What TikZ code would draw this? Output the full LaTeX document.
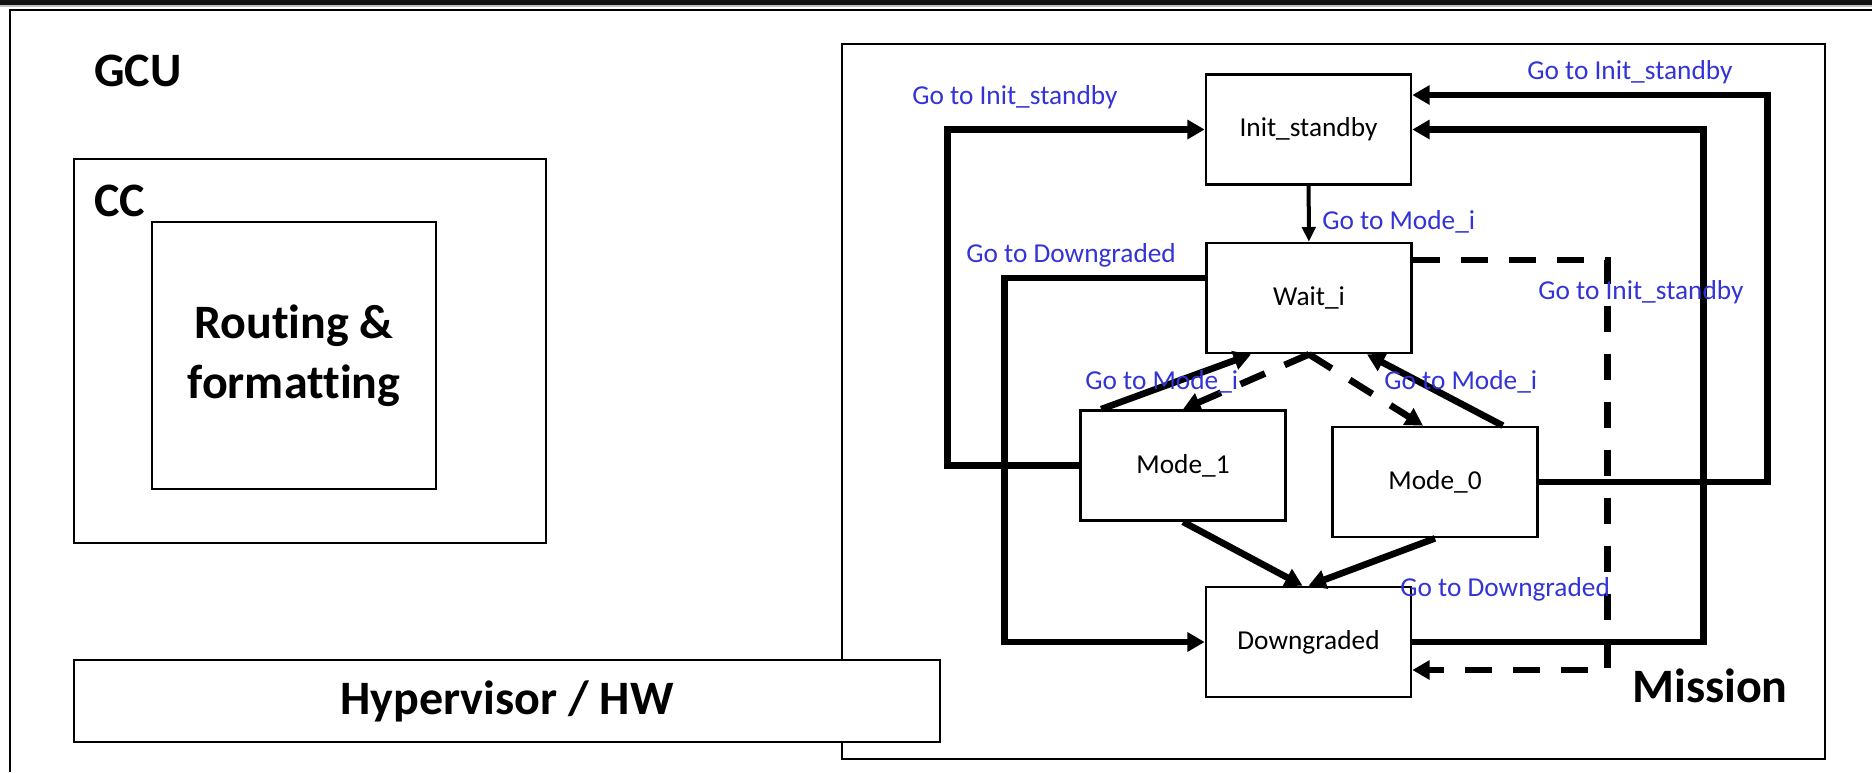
\documentclass[tikz,border=0pt]{standalone}
\usepackage{fontspec}
\setmainfont{Carlito}[Ligatures={NoCommon,NoRequired,NoContextual}]
\usepackage{tikz}
\usetikzlibrary{arrows.meta,calc}
\definecolor{lblblue}{RGB}{51,51,214}

\tikzset{
  state/.style={draw, line width=2pt, fill=white, minimum width=153.75pt, minimum height=82.5pt, inner sep=0pt, font=\fontsize{20.5}{24}\selectfont},
  flow/.style={line width=5pt, -{Triangle[length=13pt,width=14pt]}},
  flowthin/.style={line width=3pt, -{Triangle[length=11pt,width=10pt]}},
  dflow/.style={flow, dash pattern=on 20pt off 16pt},
  lbl/.style={anchor=west, inner sep=0pt, text=lblblue, font=\fontsize{20.5}{24}\selectfont},
  title/.style={inner sep=0pt, font=\fontsize{36}{45}\selectfont\bfseries},
}

\begin{document}
\begin{tikzpicture}[x=0.75pt,y=0.75pt,yscale=-1,xscale=1]
        \useasboundingbox (0,0) rectangle (1872,772);
        
        %Shape: window bar
        \fill[black!93] (0,0) rectangle (1872,5);
        \fill[black!25] (0,5) rectangle (1872,7);
        %Shape: GCU frame (runs off the page)
        \draw[line width=2pt] (1872,10) -- (10,10) -- (10,772);
        % Text Node
        \node[title, anchor=base west] (gcu) at (94,86) {GCU};
        
        %Shape: CC box
        \draw[line width=1.8pt] (74,159) rectangle (546,543);
        % Text Node
        \node[title, anchor=base west] (cc) at (94,216) {CC};
        %Shape: routing box
        \draw[line width=1.8pt] (152,222) rectangle (436,489);
        % Text Node
        \node[title, align=center] (routing) at (294,356) {Routing \&\\formatting};
        
        %Shape: Mission frame
        \draw[line width=1.8pt] (842,44) rectangle (1825,759);
        % Text Node
        \node[title, anchor=base west] (mission) at (1632,702) {Mission};
        
        %Shape: Hypervisor box
        \draw[line width=2pt, fill=white] (74,660) rectangle (940,742);
        % Text Node
        \node[title] (hyp) at (507,701) {Hypervisor / HW};
        
        % States
        \node[state] (init) at (1308.5,129.5) {Init\_standby};
        \node[state] (wait) at (1309,298) {Wait\_i};
        \node[state] (mode1) at (1183,465.5) {Mode\_1};
        \node[state] (mode0) at (1435,482) {Mode\_0};
        \node[state] (down) at (1308.5,642) {Downgraded};
        
        % Transitions
        \draw[flowthin] (init) -- (wait);
        \draw[flow] (mode1.west) -- ++(-132,0) |- (init.west);
        \draw[flow] ($(wait.west)+(0,-20)$) -| ($(down.west)+(-200,0)$) -- (down.west);
        \draw[flow] (mode0.east) -| ($(init.east)+(355,-34.5)$) -- ($(init.east)+(0,-34.5)$);
        \draw[flow] (down.east) -| ($(init.east)+(291,0)$) -- (init.east);
        \draw[dflow] ($(wait.east)+(0,-38)$) -| ($(down.east)+(195,28)$) -- ($(down.east)+(0,28)$);
        \draw[flow] ($(mode1.north west)+(22,0)$) -- ($(wait.south)+(-58,0)$);
        \draw[dflow] (wait.south) -- (mode1.north);
        \draw[dflow] (wait.south) -- ($(mode0.north)+(-12,0)$);
        \draw[flow] ($(mode0.north east)+(-36,0)$) -- ($(wait.south)+(58,0)$);
        \draw[flow] (mode1.south) -- ($(down.north)+(-6,0)$);
        \draw[flow] (mode0.south) -- (down.north);
        
        % Text Node
        \node[lbl] (l_initwait) at (1322,222) {Go to Mode\_i};
        \node[lbl] (l_m1init) at (912,97) {Go to Init\_standby};
        \node[lbl] (l_waitdown) at (966,255) {Go to Downgraded};
        \node[lbl] (l_m0init) at (1527,72) {Go to Init\_standby};
        \node[lbl] (l_downinit) at (1538,292) {Go to Init\_standby};
        \node[lbl] (l_waitdown2) at (1400,589) {Go to Downgraded};
        \node[lbl] (l_m1wait) at (1085,382) {Go to Mode\_i};
        \node[lbl] (l_m0wait) at (1384,382) {Go to Mode\_i};
        
\end{tikzpicture}
\end{document}
